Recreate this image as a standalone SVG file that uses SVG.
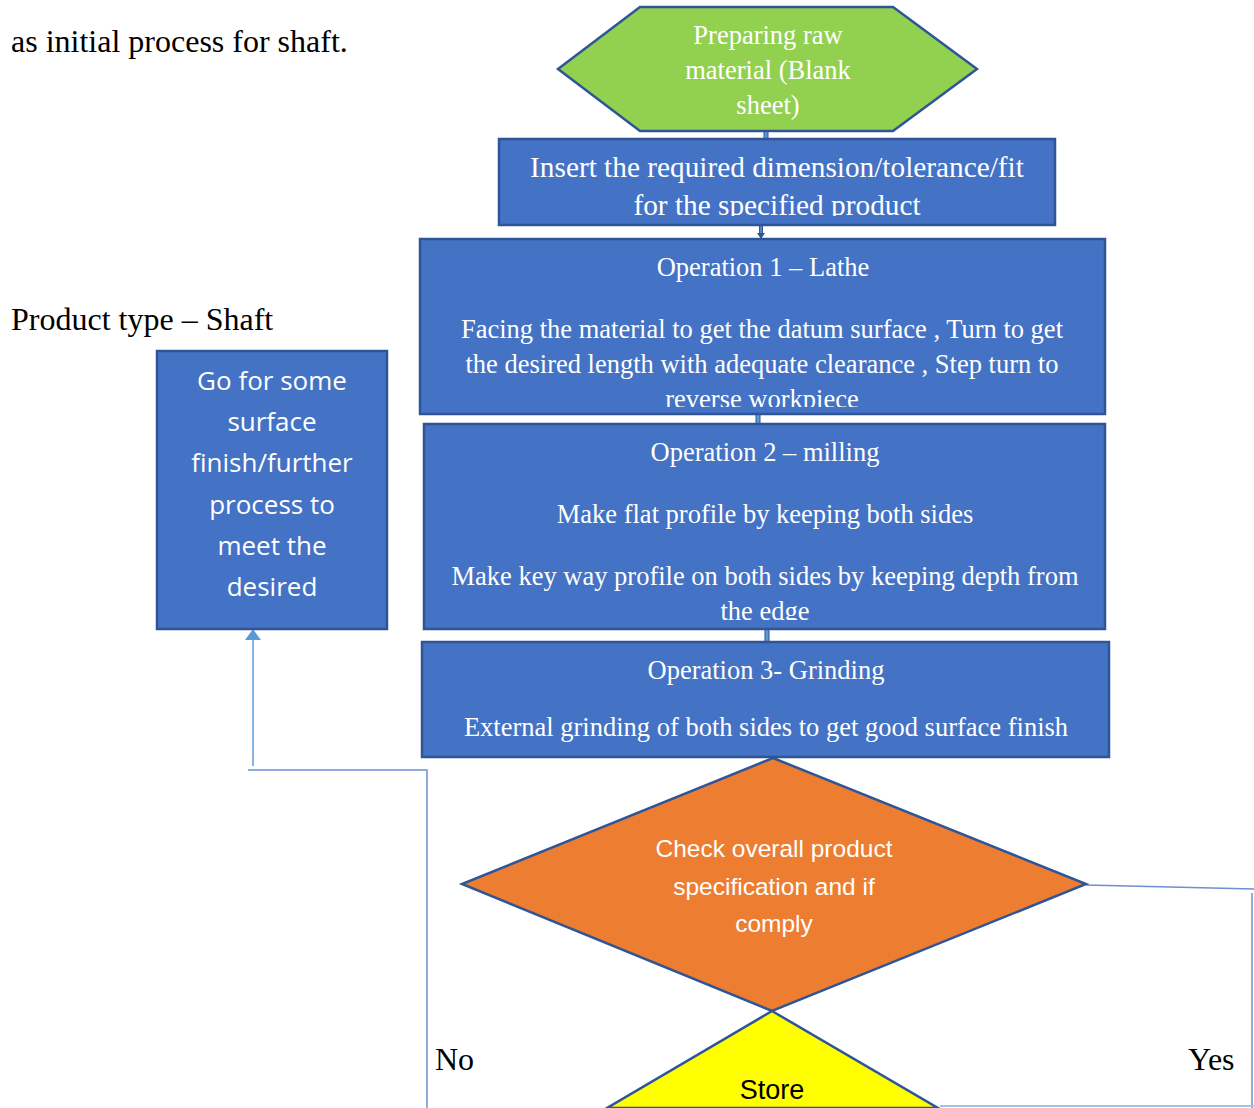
<svg xmlns="http://www.w3.org/2000/svg" width="1254" height="1108" viewBox="0 0 1254 1108">
<style>
.box{fill:#4472C4;stroke:#2F5597;stroke-width:2.5}
.serif{font-family:"Liberation Serif","Times New Roman",serif}
.wt{fill:#FFFFFF;font-size:26.5px;text-anchor:middle}
.big{font-size:29.3px}
.body{fill:#000000;font-size:32px}
.sans{font-family:"Open Sans","Liberation Sans",sans-serif}
.lsans{font-family:"Liberation Sans",Arial,sans-serif}
.conn{fill:none;stroke:#6E8FD0;stroke-width:1.5}
.stub{fill:#5B9BD5;stroke:#2F5597;stroke-width:1}
</style>
<defs>
<clipPath id="c1"><rect x="500" y="140" width="554" height="76"/></clipPath>
<clipPath id="c2"><rect x="421" y="240" width="683" height="167"/></clipPath>
<clipPath id="c3"><rect x="425" y="425" width="679" height="195"/></clipPath>
<clipPath id="c4"><rect x="158" y="352" width="228" height="265"/></clipPath>
<clipPath id="c5"><rect x="0" y="1011" width="1254" height="88"/></clipPath>
</defs>

<text class="serif body" x="11" y="52">as initial process for shaft.</text>
<text class="serif body" x="11" y="330">Product type – Shaft</text>
<text class="serif body" x="435" y="1070">No</text>
<text class="serif body" x="1188" y="1070">Yes</text>

<g id="connectors">
<rect class="stub" x="764" y="131" width="4" height="9"/>
<path d="M761,225 V236" stroke="#2F5597" stroke-width="4" fill="none"/>
<path d="M761,225 V236" stroke="#5B9BD5" stroke-width="1.5" fill="none"/>
<path d="M757,233 L761,239 L765,233" fill="#2F5597"/>
<rect class="stub" x="756" y="414" width="4" height="11"/>
<rect class="stub" x="765" y="629" width="4" height="14"/>
<path class="conn" d="M427,1108 V770 H248"/>
<path d="M253,766 V639" fill="none" stroke="#5B9BD5" stroke-width="1.5"/>
<polygon points="253,629 245,640 261,640" fill="#5B9BD5"/>
<path class="conn" d="M1086,885 L1254,889"/>
<path class="conn" d="M1252,893 V1108"/>
<path d="M940,1106 H1254" fill="none" stroke="#9DC3E6" stroke-width="2"/>
</g>

<g id="start">
<polygon points="640,7 893,7 977,69 893,131 640,131 558,69" fill="#92D050" stroke="#2F5597" stroke-width="2.5"/>
<text class="serif wt" x="768" y="44">Preparing raw</text>
<text class="serif wt" x="768" y="79">material (Blank</text>
<text class="serif wt" x="768" y="114">sheet)</text>
</g>

<g id="insert">
<rect class="box" x="499" y="139" width="556" height="86"/>
<g clip-path="url(#c1)">
<text class="serif wt big" x="777" y="177">Insert the required dimension/tolerance/fit</text>
<text class="serif wt big" x="777" y="215">for the specified product</text>
</g>
</g>

<g id="op1">
<rect class="box" x="420" y="239" width="685" height="175"/>
<g clip-path="url(#c2)">
<text class="serif wt" x="763" y="276">Operation 1 – Lathe</text>
<text class="serif wt" x="762" y="338">Facing the material to get the datum surface , Turn to get</text>
<text class="serif wt" x="762" y="373">the desired length with adequate clearance , Step turn to</text>
<text class="serif wt" x="762" y="408">reverse workpiece</text>
</g>
</g>

<g id="op2">
<rect class="box" x="424" y="424" width="681" height="205"/>
<g clip-path="url(#c3)">
<text class="serif wt" x="765" y="461">Operation 2 – milling</text>
<text class="serif wt" x="765" y="523">Make flat profile by keeping both sides</text>
<text class="serif wt" x="765" y="585">Make key way profile on both sides by keeping depth from</text>
<text class="serif wt" x="765" y="620">the edge</text>
</g>
</g>

<g id="op3">
<rect class="box" x="422" y="642" width="687" height="115"/>
<text class="serif wt" x="766" y="679">Operation 3- Grinding</text>
<text class="serif wt" x="766" y="736">External grinding of both sides to get good surface finish</text>
</g>

<g id="further">
<rect class="box" x="157" y="351" width="230" height="278"/>
<g clip-path="url(#c4)" class="sans" fill="#FFFFFF" font-size="26" text-anchor="middle">
<text x="272" y="390">Go for some</text>
<text x="272" y="431">surface</text>
<text x="272" y="472">finish/further</text>
<text x="272" y="514">process to</text>
<text x="272" y="555">meet the</text>
<text x="272" y="596">desired</text>
</g>
</g>

<g id="check">
<polygon points="773,758 1086,884 772,1011 462,884" fill="#ED7D31" stroke="#2F5597" stroke-width="2.5"/>
<g class="lsans" fill="#FFFFFF" font-size="24.5" text-anchor="middle">
<text x="774" y="857">Check overall product</text>
<text x="774" y="895">specification and if</text>
<text x="774" y="932">comply</text>
</g>
</g>

<g id="store">
<polygon points="772,1011 938,1108 607,1108" fill="#FFFF00" stroke="#2F5597" stroke-width="2.5"/>
<text clip-path="url(#c5)" class="lsans" x="772" y="1099" font-size="27" fill="#000000" text-anchor="middle">Store</text>
</g>
</svg>
